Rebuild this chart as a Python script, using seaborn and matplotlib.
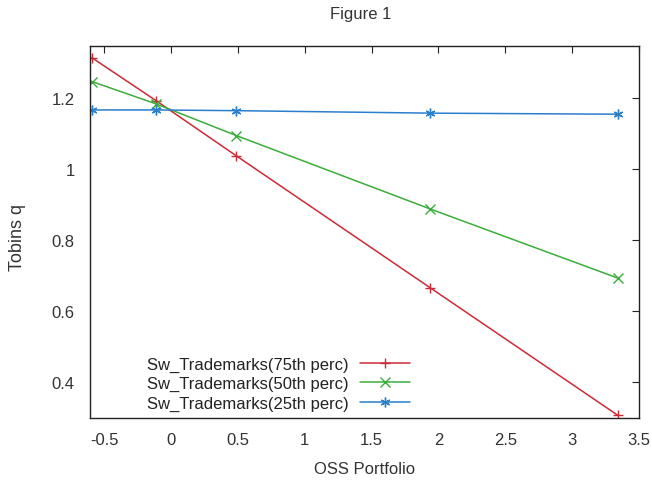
import matplotlib
matplotlib.use("Agg")
import matplotlib.pyplot as plt
import seaborn as sns
import pandas as pd

x_vals = [-0.593, -0.112, 0.487, 1.94, 3.34]
q_75 = [1.313, 1.192, 1.037, 0.665, 0.307]
q_50 = [1.246, 1.183, 1.094, 0.887, 0.693]
q_25 = [1.166, 1.166, 1.164, 1.157, 1.154]
series_names = ["Sw_Trademarks(75th perc)", "Sw_Trademarks(50th perc)", "Sw_Trademarks(25th perc)"]
x_ticks = [-0.5, 0, 0.5, 1, 1.5, 2, 2.5, 3, 3.5]
y_ticks = [0.4, 0.6, 0.8, 1.0, 1.2]
y_tick_labels = ["0.4", "0.6", "0.8", "1", "1.2"]

sns.set_style("white")
plt.rcParams['font.family'] = ['Liberation Sans', 'DejaVu Sans']

df = pd.DataFrame({
    "x": x_vals * 3,
    "q": q_75 + q_50 + q_25,
    "series": [series_names[0]] * 5 + [series_names[1]] * 5 + [series_names[2]] * 5,
})

fig = plt.figure(figsize=(6.52, 4.81), dpi=100)
ax = fig.add_axes([90/652, 1 - 419/481, (639-90)/652, (419-47)/481])

colors = ["#cc2a36", "#3aae3a", "#2a7fcc"]
markers = ["+", "x", (6, 2, 0)]
for name, c, m in zip(series_names, colors, markers):
    sub = df[df["series"] == name]
    sns.lineplot(data=sub, x="x", y="q", ax=ax, color=c, marker=m, markersize=7,
                 markeredgewidth=1.0, markeredgecolor=c, linewidth=1.1, label=name,
                 sort=False)

ax.set_xlim(-0.607, 3.5)
ax.set_ylim(0.299, 1.346)
ax.set_xticks(x_ticks)
ax.set_xticklabels([f"{t:g}" for t in x_ticks])
ax.set_yticks(y_ticks)
ax.set_yticklabels(y_tick_labels)
ax.tick_params(direction="in", top=True, right=True, length=5, width=0.8,
               labelsize=12, colors="#222222", labelcolor="#333333")
ax.tick_params(axis="x", pad=10)
ax.tick_params(axis="y", pad=11)
for s in ax.spines.values():
    s.set_color("#222222")
    s.set_linewidth(1.0)
    s.set_visible(True)

ax.set_xlabel("OSS Portfolio", fontsize=12, labelpad=10, color="#333333")
ax.set_ylabel("Tobins q", fontsize=13, color="#333333")
ax.yaxis.set_label_coords((26 - 90) / 549, (419 - 238) / 372)
fig.text(361/652, 1 - 15/481, "Figure 1", ha="center", va="center",
         fontsize=12, color="#333333")

ax.legend(loc="lower right", bbox_to_anchor=((410 - 90) / 549, 0.02), frameon=False,
          markerfirst=False, fontsize=12, handlelength=3.0, handletextpad=0.7,
          labelspacing=0.26, borderpad=0, borderaxespad=0, alignment="right")
for t in ax.get_legend().get_texts():
    t.set_ha("right")
    t.set_color("#222222")

fig.savefig("out.png", dpi=100)
